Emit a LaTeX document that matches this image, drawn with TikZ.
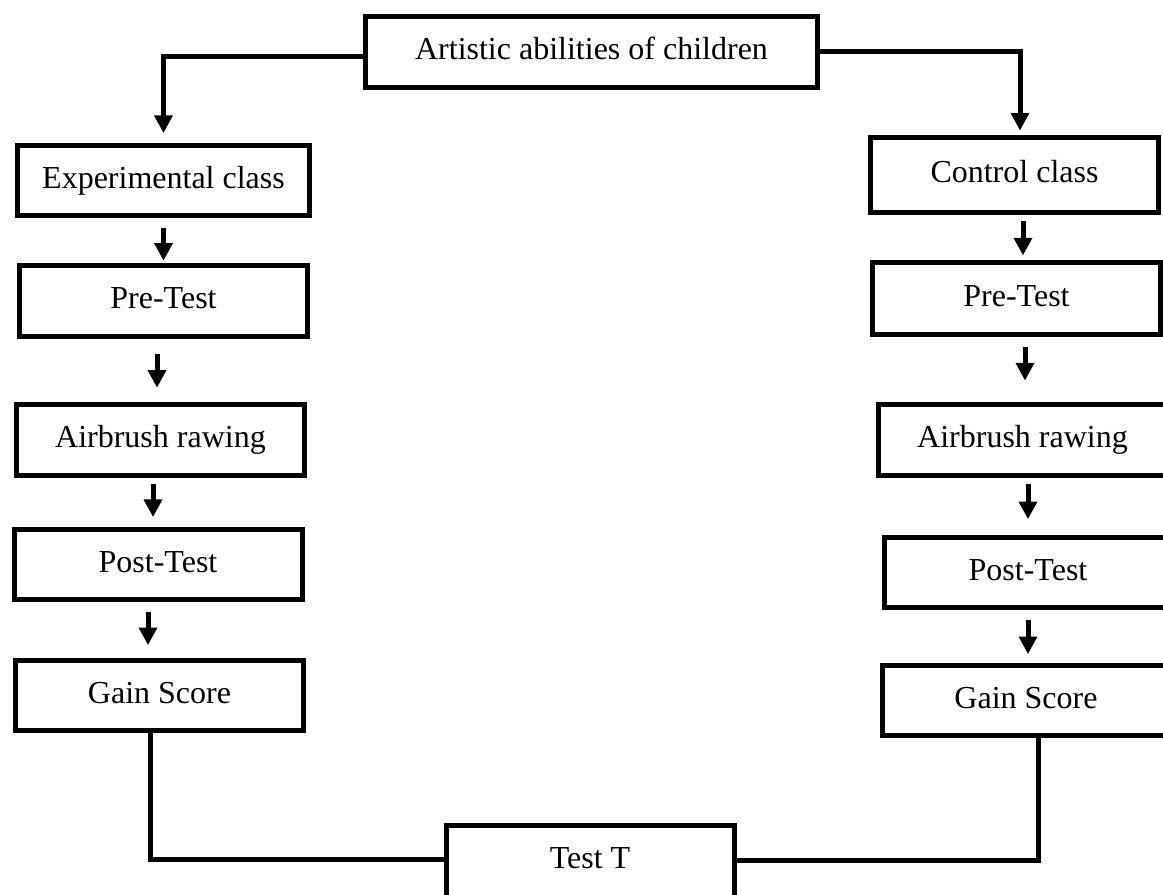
\documentclass[tikz,border=0pt]{standalone}
\usepackage{fontspec}
\setmainfont{Liberation Serif}
\usetikzlibrary{arrows.meta}
\def\px{0.375pt}
\tikzset{
  box/.style={draw, line width=1.875pt, minimum width=#1, minimum height=26.5pt, inner sep=0pt,
              text height=8.4pt, text depth=2.6pt, font=\fontsize{12pt}{14pt}\selectfont},
  box/.default=108pt,
  link/.style={line width=1.875pt},
  flow/.style={link, -{Triangle[width=6.6pt,length=6.6pt]}, shorten <=3pt, shorten >=3pt},
}

\begin{document}
\begin{tikzpicture}[x=0.375pt,y=-0.375pt]
  \clip (0,0) rectangle (1163,895);
  % Top
  \node[box=169.5pt] (top) at (591.5,52) {Artistic abilities of children};
  % Experimental column
  \node[box=109.5pt] (L1) at (163.5,180.5) {Experimental class};
  \node[box] (L2) at (163.5,301) {Pre-Test};
  \node[box] (L3) at (160.5,440) {Airbrush rawing};
  \node[box] (L4) at (158,564.5) {Post-Test};
  \node[box] (L5) at (159.5,695.5) {Gain Score};
  % Control column
  \node[box, minimum height=28pt] (R1) at (1014.5,175) {Control class};
  \node[box, minimum height=27pt] (R2) at (1016.5,298.5) {Pre-Test};
  \node[box] (R3) at (1022.5,440) {Airbrush rawing};
  \node[box] (R4) at (1028,572.5) {Post-Test};
  \node[box] (R5) at (1026,700.5) {Gain Score};
  % Bottom
  \node[box, minimum height=33.75pt, text depth=9.8pt] (T) at (590,870.5) {Test T};
  \draw[flow, shorten <=0pt, shorten >=3.6pt] ([yshift=-5*\px]top.west) -| (L1.north);
  \draw[flow, shorten <=0pt, shorten >=1.7pt] (top.east) -| ([xshift=5.5*\px]R1.north);
  \foreach \a/\b/\s/\p/\q in {L1/L2/0/3.6/0.9, L2/L3/-6.5/5.8/5.4, L3/L4/-7.5/2.4/3.6, L4/L5/-10/3.6/4.7,
                             R1/R2/8.5/2.4/1.7, R2/R3/8.5/3.9/8.1, R3/R4/5.5/2.4/5.8, R4/R5/0/3.6/3.2}{
    \draw[flow, shorten <=\p pt, shorten >=\q pt] ([xshift=\s*\px]\a.south) -- ([xshift=\s*\px]\a.south |- \b.north);}
  \draw[link] ([xshift=-9.5*\px]L5.south) |- (T.west |- 0,860);
  \draw[link] ([xshift=12*\px]R5.south) |- (T.east |- 0,861);
\end{tikzpicture}
\end{document}
